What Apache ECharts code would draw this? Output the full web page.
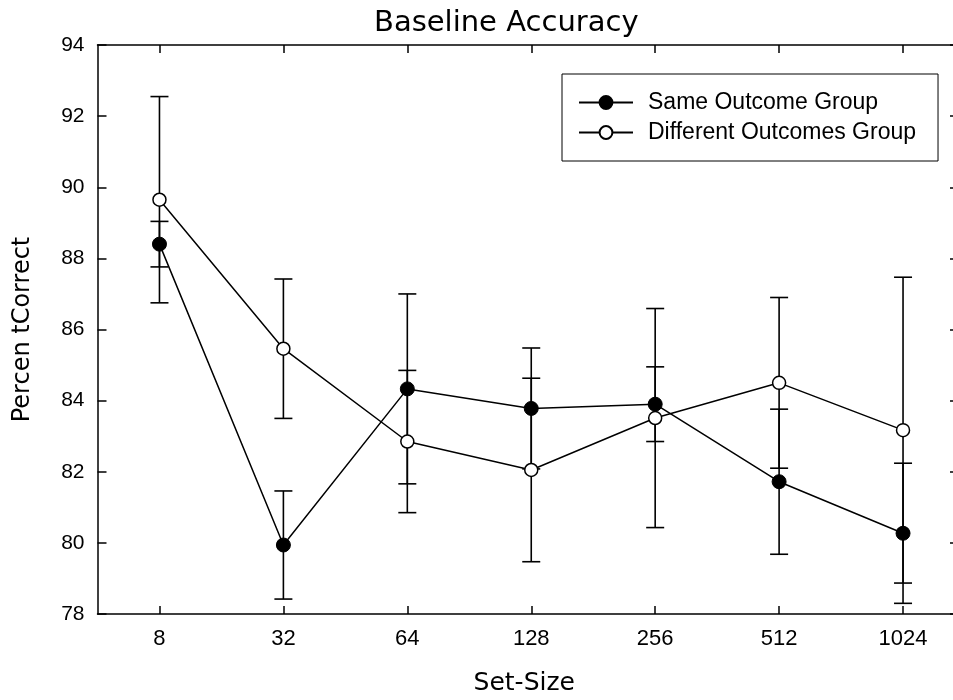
<!DOCTYPE html>
<html>
<head>
<meta charset="utf-8">
<script src="https://cdn.jsdelivr.net/npm/echarts@6/dist/echarts.min.js"></script>
<style>
html,body{margin:0;padding:0;background:#fff;}
#chart{width:953px;height:700px;}
</style>
</head>
<body>
<div id="chart"></div>
<script>
var setSizes = ['8', '32', '64', '128', '256', '512', '1024'];
var sameMean = [88.40, 79.94, 84.33, 83.78, 83.90, 81.72, 80.27];
var sameErr = [0.64, 1.52, 2.67, 1.70, 1.05, 2.04, 1.97];
var diffMean = [89.65, 85.46, 82.85, 82.05, 83.51, 84.50, 83.17];
var diffErr = [2.90, 1.96, 2.00, 2.58, 3.08, 2.40, 4.30];
var yMin = 78, yMax = 94, yStep = 2;

// [index, low, high] rows for the error bars
function barRows(mean, err){
	var rows = [];
	for(var i=0;i<mean.length;i++){
		rows.push([i, mean[i]-err[i], mean[i]+err[i]]);
	}
	return rows;
}

function errorBarItem(params, api){
	var lo = api.coord([api.value(0), api.value(1)]);
	var hi = api.coord([api.value(0), api.value(2)]);
	var half = 9;
	var style = {stroke:'#000', lineWidth:1.6, fill:null};
	return {
		type:'group',
		children:[
			{type:'line', shape:{x1:hi[0], y1:hi[1], x2:lo[0], y2:lo[1]}, style:style},
			{type:'line', shape:{x1:hi[0]-half, y1:hi[1], x2:hi[0]+half, y2:hi[1]}, style:style},
			{type:'line', shape:{x1:lo[0]-half, y1:lo[1], x2:lo[0]+half, y2:lo[1]}, style:style}
		]
	};
}

var axisLine = {show:true, lineStyle:{color:'#000', width:1.5}};

var option = {
	animation:false,
	backgroundColor:'#fff',
	title:{
		text:'Baseline Accuracy',
		left:369,
		top:4,
		textStyle:{fontFamily:'DejaVu Sans', fontSize:29, fontWeight:'normal', color:'#000'}
	},
	legend:{
		data:['Same Outcome Group', 'Different Outcomes Group'],
		orient:'vertical',
		left:562,
		top:74,
		padding:[17, 22, 17, 16],
		itemWidth:54,
		itemHeight:16,
		itemGap:7,
		borderColor:'#000',
		borderWidth:1,
		backgroundColor:'#fff',
		textStyle:{fontFamily:'Liberation Sans', fontSize:23, color:'#000', padding:[0, 0, 0, 10]}
	},
	grid:{left:97.5, top:45, width:867.5, height:569, containLabel:false, outerBoundsMode:'none'},
	xAxis:[{
		type:'category',
		data:setSizes,
		position:'bottom',
		name:'Set-Size',
		nameLocation:'middle',
		nameGap:57,
		nameTextStyle:{fontFamily:'DejaVu Sans', fontSize:25, color:'#000', padding:[0, 14, 0, 0]},
		axisLine:axisLine,
		axisTick:{show:true, inside:true, alignWithLabel:true, length:8, lineStyle:{color:'#000', width:1.5}},
		axisLabel:{fontFamily:'Liberation Sans', fontSize:22, color:'#000', margin:14},
		splitLine:{show:false}
	},{
		type:'category',
		data:setSizes,
		position:'top',
		axisLine:axisLine,
		axisTick:{show:true, inside:true, alignWithLabel:true, length:8, lineStyle:{color:'#000', width:1.5}},
		axisLabel:{show:false},
		splitLine:{show:false}
	}],
	yAxis:[{
		type:'value',
		min:yMin,
		max:yMax,
		interval:yStep,
		position:'left',
		name:'Percen tCorrect',
		nameLocation:'middle',
		nameGap:63,
		nameTextStyle:{fontFamily:'DejaVu Sans', fontSize:24, color:'#000'},
		axisLine:axisLine,
		axisTick:{show:true, inside:true, length:9, lineStyle:{color:'#000', width:1.5}},
		axisLabel:{fontFamily:'Liberation Sans', fontSize:21, color:'#000', margin:13},
		splitLine:{show:false}
	},{
		type:'value',
		min:yMin,
		max:yMax,
		interval:yStep,
		position:'right',
		axisLine:axisLine,
		axisTick:{show:true, inside:true, length:15, lineStyle:{color:'#000', width:1.5}},
		axisLabel:{show:false},
		splitLine:{show:false}
	}],
	series:[
		{
			type:'custom',
			renderItem:errorBarItem,
			data:barRows(sameMean, sameErr),
			encode:{x:0, y:[1, 2]},
			z:1,
			silent:true
		},
		{
			type:'custom',
			renderItem:errorBarItem,
			data:barRows(diffMean, diffErr),
			encode:{x:0, y:[1, 2]},
			z:1,
			silent:true
		},
		{
			name:'Same Outcome Group',
			type:'line',
			data:sameMean,
			symbol:'circle',
			symbolSize:14,
			z:3,
			lineStyle:{color:'#000', width:1.5},
			itemStyle:{color:'#000', borderColor:'#000', borderWidth:1}
		},
		{
			name:'Different Outcomes Group',
			type:'line',
			data:diffMean,
			symbol:'circle',
			symbolSize:13,
			z:4,
			lineStyle:{color:'#000', width:1.5},
			itemStyle:{color:'#fff', borderColor:'#000', borderWidth:1.5}
		}
	]
};

var myChart = echarts.init(document.getElementById('chart'));
myChart.setOption(option);
</script>
</body>
</html>
